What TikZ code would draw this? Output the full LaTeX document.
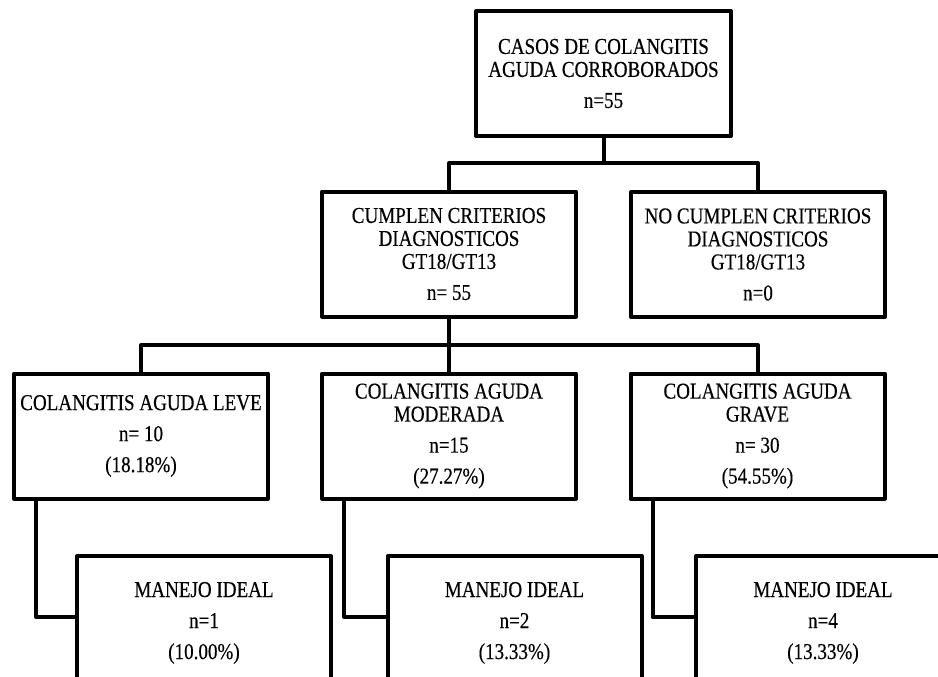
\documentclass[tikz,border=0pt]{standalone}
\usepackage{fontspec}
\setmainfont{Liberation Serif}[FakeStretch=0.84,FakeBold=0.35]
\begin{document}
\begin{tikzpicture}[x=1pt,y=-1pt,
  box/.style={draw, line width=4pt, line join=round, align=center,
    inner xsep=2pt, font=\fontsize{22.7}{23}\selectfont,
    minimum width=254pt, minimum height=125pt},
  leafbox/.style={draw, line width=4pt, line join=round, align=center,
    inner xsep=2pt, inner ysep=26pt, font=\fontsize{22.7}{23}\selectfont,
    minimum width=254pt, anchor=north},
  conn/.style={line width=4pt, line join=round}]
\useasboundingbox (0,0) rectangle (938,677);
\clip (0,0) rectangle (938,677);
\coordinate (h1) at (0,163);
\coordinate (h2) at (0,345);
\coordinate (h3) at (0,617);
% level 1
\node[box, minimum width=255pt] (top) at (603.5,73.5) {CASOS DE COLANGITIS\\AGUDA CORROBORADOS\\[8pt]n=55};
% level 2
\node[box] (c1) at (449,254) {CUMPLEN CRITERIOS\\DIAGNOSTICOS\\GT18/GT13\\[8pt]n= 55};
\node[box] (c2) at (758,254.5) {NO CUMPLEN CRITERIOS\\DIAGNOSTICOS\\GT18/GT13\\[8pt]n=0};
% level 3
\node[box] (d1) at (141,436) {COLANGITIS AGUDA LEVE\\[8pt]n= 10\\[8pt](18.18\%)};
\node[box] (d2) at (449,436) {COLANGITIS AGUDA\\MODERADA\\[8pt]n=15\\[8pt](27.27\%)};
\node[box] (d3) at (757.5,436) {COLANGITIS AGUDA\\GRAVE\\[8pt]n= 30\\[8pt](54.55\%)};
% level 4
\node[leafbox] (e1) at (204,554) {MANEJO IDEAL\\[8pt]n=1\\[8pt](10.00\%)};
\node[leafbox] (e2) at (514.5,554) {MANEJO IDEAL\\[8pt]n=2\\[8pt](13.33\%)};
\node[leafbox] (e3) at (823,554) {MANEJO IDEAL\\[8pt]n=4\\[8pt](13.33\%)};
% connectors
\draw[conn] (top.south) -- (top.south |- h1);
\draw[conn] (c1.north) |- (c2.north |- h1) -- (c2.north);
\draw[conn] (c1.south) -- (d2.north);
\draw[conn] (d1.north) |- (d3.north |- h2) -- (d3.north);
\draw[conn] ([xshift=24pt]d1.south west) |- (e1.west |- h3);
\draw[conn] ([xshift=24pt]d2.south west) |- (e2.west |- h3);
\draw[conn] ([xshift=24pt]d3.south west) |- (e3.west |- h3);
\end{tikzpicture}
\end{document}
